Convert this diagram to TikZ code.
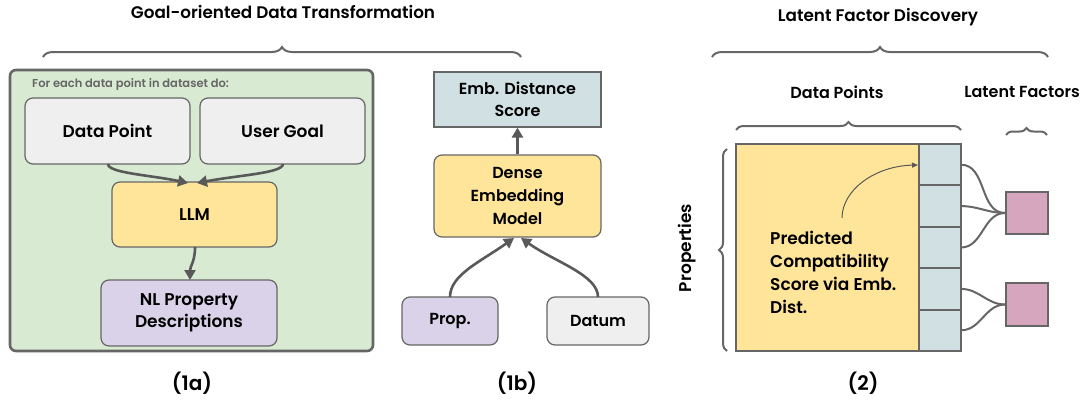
\documentclass[tikz,border=0pt]{standalone}
\usepackage{fontspec}
\setmainfont{Poppins}[UprightFont=* Medium, BoldFont=* SemiBold]
\usetikzlibrary{arrows.meta,decorations.pathreplacing,calc}
\definecolor{bgreen}{HTML}{D9EAD3}
\definecolor{bgray}{HTML}{EFEFEF}
\definecolor{byellow}{HTML}{FFE599}
\definecolor{bpurple}{HTML}{D9D2E9}
\definecolor{bblue}{HTML}{D0E0E3}
\definecolor{bpink}{HTML}{D5A6BD}
\definecolor{edge}{HTML}{666666}
\definecolor{arr}{HTML}{595959}
\tikzset{
  box/.style={draw=edge, line width=1.2pt, rounded corners=8pt, inner sep=0pt, align=center,
    font=\fontsize{17}{22}\selectfont\bfseries, text=black},
  conn/.style={draw=arr, line width=2.6pt, -{Triangle[length=10pt,width=11pt]}},
  bracestyle/.style={draw=edge, line width=2pt, decorate, decoration={brace, amplitude=10pt}},
  title/.style={font=\fontsize{16.8}{20}\selectfont\bfseries},
  sublabel/.style={font=\fontsize{20}{22}\selectfont\bfseries},
  small/.style={font=\fontsize{16}{18}\selectfont\bfseries},
  cell/.style={draw=edge, line width=2pt, fill=bblue},
  fac/.style={draw=edge, line width=2pt, fill=bpink},
  link/.style={draw=edge, line width=2pt}
}
\begin{document}
\begin{tikzpicture}[x=1pt, y=-1pt]
\useasboundingbox (0,0) rectangle (1091,407);

% ---------- titles ----------
\node[title] (t1) at (283,12) {Goal-oriented Data Transformation};
\node[title] (t2) at (878,17) {Latent Factor Discovery};
\draw[bracestyle] (43,57) -- (521,57);
\draw[bracestyle] (712,57) -- (1048,57);

% ---------- panel 1a ----------
\node[draw=edge, line width=2.6pt, fill=bgreen, rounded corners=6pt, minimum width=363pt, minimum height=281pt, inner sep=0pt] (green) at (191.5,210.5) {};
\node[anchor=west, font=\fontsize{11.5}{13}\selectfont\bfseries, text=edge, inner sep=0pt] (foreach) at (32,85) {For each data point in dataset do:};
\node[box, fill=bgray, minimum width=165pt, minimum height=66pt] (dp) at (107.5,131) {Data Point};
\node[box, fill=bgray, minimum width=165pt, minimum height=66pt] (ug) at (282.5,131) {User Goal};
\node[box, fill=byellow, minimum width=165pt, minimum height=65pt] (llm) at (194.5,214.5) {LLM};
\node[box, fill=bpurple, minimum width=176pt, minimum height=66pt] (nl) at (189,313) {NL Property\\Descriptions};
\coordinate (dpo) at (108,164);
\coordinate (ugo) at (283,164);
\coordinate (llmi1) at (188,183);
\coordinate (llmi2) at (197,183);
\draw[conn] (dpo) .. controls (108,173) and (150,175) .. (llmi1);
\draw[conn] (ugo) .. controls (283,173) and (240,175) .. (llmi2);
\coordinate (llmo) at (195,247);
\coordinate (nli) at (190,280);
\draw[conn] (llmo) .. controls (195,262) and (190,266) .. (nli);
\node[sublabel] (l1a) at (192,383) {(1a)};

% ---------- panel 1b ----------
\node[box, rounded corners=0pt, fill=bblue, minimum width=167pt, minimum height=55pt, font=\fontsize{16}{22}\selectfont\bfseries] (emb) at (517.5,99.5) {Emb. Distance\\Score};
\node[box, fill=byellow, minimum width=167pt, minimum height=82pt, font=\fontsize{16}{23}\selectfont\bfseries] (dense) at (517.5,196) {Dense\\Embedding\\Model};
\node[box, fill=bpurple, minimum width=96pt, minimum height=48pt, font=\fontsize{16}{22}\selectfont\bfseries] (prop) at (450,321) {Prop.};
\node[box, fill=bgray, minimum width=102pt, minimum height=48pt, font=\fontsize{16}{22}\selectfont\bfseries] (datum) at (598,321) {Datum};
\draw[conn] (dense.north) -- (emb.south);
\coordinate (propo) at (450,297);
\coordinate (datumo) at (598,297);
\coordinate (di1) at (514,238);
\coordinate (di2) at (521,238);
\draw[conn] (propo) .. controls (450,275) and (480,262) .. (di1);
\draw[conn] (datumo) .. controls (598,275) and (555,262) .. (di2);
\node[sublabel] (l1b) at (517,383) {(1b)};

% ---------- panel 2 ----------
\node[small] (dptxt) at (837,92) {Data Points};
\node[small] (lftxt) at (1022,92) {Latent Factors};
\draw[bracestyle, decoration={brace, amplitude=8pt}] (736,130) -- (961,130);
\draw[bracestyle, decoration={brace, amplitude=7pt}] (1006,135) -- (1047,135);
\draw[bracestyle, decoration={brace, amplitude=8pt}] (727,351) -- (727,149);
\node[small, rotate=90, font=\fontsize{17}{18}\selectfont\bfseries] (proptxt) at (687,248) {Properties};

\node[draw=edge, line width=2.2pt, fill=byellow, minimum width=183pt, minimum height=207pt, inner sep=0pt] (mat) at (827.5,247.5) {};
\foreach \i in {0,...,4} {
  \pgfmathsetmacro{\ya}{144+41.4*\i}
  \pgfmathsetmacro{\yb}{144+41.4*(\i+1)}
  \draw[cell] (919,\ya) rectangle (961,\yb);
  \coordinate (c\i) at (961,{(\ya+\yb)/2});
}
\node[fac, minimum width=42pt, minimum height=42pt, inner sep=0pt] (f1) at (1027,213) {};
\node[fac, minimum width=42pt, minimum height=43pt, inner sep=0pt] (f2) at (1027,304.5) {};
\draw[link] (c0) to[out=0,in=180] (f1.west);
\draw[link] (c1) to[out=0,in=180] (f1.west);
\draw[link] (c2) to[out=0,in=180] (f1.west);
\draw[link] (c3) to[out=0,in=180] (f2.west);
\draw[link] (c4) to[out=0,in=180] (f2.west);

\node[anchor=north west, align=left, inner sep=0pt, font=\fontsize{17}{23}\selectfont\bfseries] (pred) at (770,231) {Predicted\\Compatibility\\Score via Emb.\\Dist.};
\coordinate (pa) at (842,218);
\coordinate (pb) at (918,165);
\draw[draw=arr, line width=1pt, -{Triangle[length=6pt,width=5pt]}] (pa) .. controls (842,190) and (875,166) .. (pb);
\node[sublabel] (l2) at (863,383) {(2)};
\end{tikzpicture}
\end{document}
